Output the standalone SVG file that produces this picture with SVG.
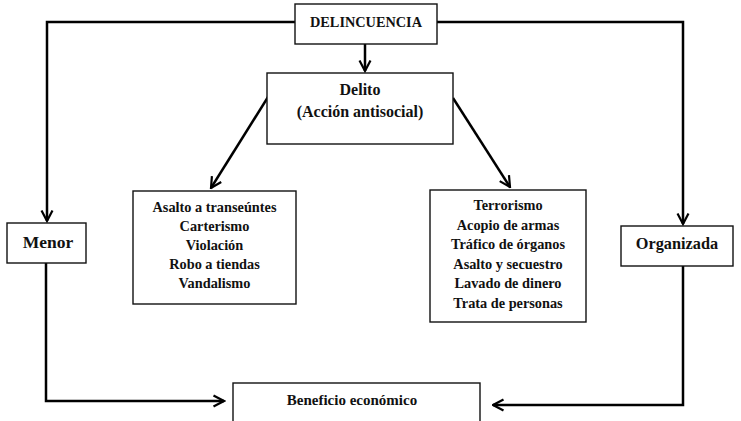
<svg xmlns="http://www.w3.org/2000/svg" width="741" height="421" viewBox="0 0 741 421">
<defs>
<marker id="arr" viewBox="0 0 14 14" refX="12.5" refY="7" markerWidth="14" markerHeight="14" markerUnits="userSpaceOnUse" orient="auto">
<path d="M2,1.5 L12.5,7 L2,12.5" fill="none" stroke="#000" stroke-width="2.2" stroke-linejoin="miter"/>
</marker>
<style>
.box{fill:#fff;stroke:#111;stroke-width:1.4}
.t{font-family:"Liberation Serif","Times New Roman",serif;font-weight:bold;fill:#111;text-anchor:middle}
.c{fill:none;stroke:#000;stroke-width:2.5}
</style>
</defs>
<rect width="741" height="421" fill="#fff"/>
<g id="connectors">
<path class="c" d="M295,22 H47 V221" marker-end="url(#arr)"/>
<path class="c" d="M437,22 H683 V224" marker-end="url(#arr)"/>
<path class="c" d="M365,44 V71" marker-end="url(#arr)"/>
<path class="c" d="M268,97 L211,188" marker-end="url(#arr)"/>
<path class="c" d="M453,98 L510,187" marker-end="url(#arr)"/>
<path class="c" d="M46,263 V401 H224" marker-end="url(#arr)"/>
<path class="c" d="M683,266 V405 H493" marker-end="url(#arr)"/>
</g>
<g id="delincuencia">
<rect class="box" x="295" y="4" width="142" height="40"/>
<text class="t" x="366" y="26.5" font-size="14.3">DELINCUENCIA</text>
</g>
<g id="delito">
<rect class="box" x="267" y="73" width="186" height="71"/>
<text class="t" x="360" y="95" font-size="16">Delito</text>
<text class="t" x="360" y="117" font-size="16">(Acción antisocial)</text>
</g>
<g id="menor-delitos">
<rect class="box" x="133" y="191" width="163" height="113"/>
<text class="t" x="214.5" y="212" font-size="14.3">Asalto a transeúntes</text>
<text class="t" x="214.5" y="231" font-size="14.3">Carterismo</text>
<text class="t" x="214.5" y="250" font-size="14.3">Violación</text>
<text class="t" x="214.5" y="269" font-size="14.3">Robo a tiendas</text>
<text class="t" x="214.5" y="288" font-size="14.3">Vandalismo</text>
</g>
<g id="organizada-delitos">
<rect class="box" x="430" y="190" width="156" height="132"/>
<text class="t" x="508" y="210" font-size="14.3">Terrorismo</text>
<text class="t" x="508" y="229.5" font-size="14.3">Acopio de armas</text>
<text class="t" x="508" y="249" font-size="14.3">Tráfico de órganos</text>
<text class="t" x="508" y="268.5" font-size="14.3">Asalto y secuestro</text>
<text class="t" x="508" y="288" font-size="14.3">Lavado de dinero</text>
<text class="t" x="508" y="307.5" font-size="14.3">Trata de personas</text>
</g>
<g id="menor">
<rect class="box" x="7" y="223" width="79" height="40"/>
<text class="t" x="48" y="248" font-size="17.5">Menor</text>
</g>
<g id="organizada">
<rect class="box" x="621" y="226" width="112" height="40"/>
<text class="t" x="677" y="249" font-size="16.3">Organizada</text>
</g>
<g id="beneficio">
<rect class="box" x="233" y="383" width="247" height="45"/>
<text class="t" x="352" y="405" font-size="15">Beneficio económico</text>
</g>
</svg>
